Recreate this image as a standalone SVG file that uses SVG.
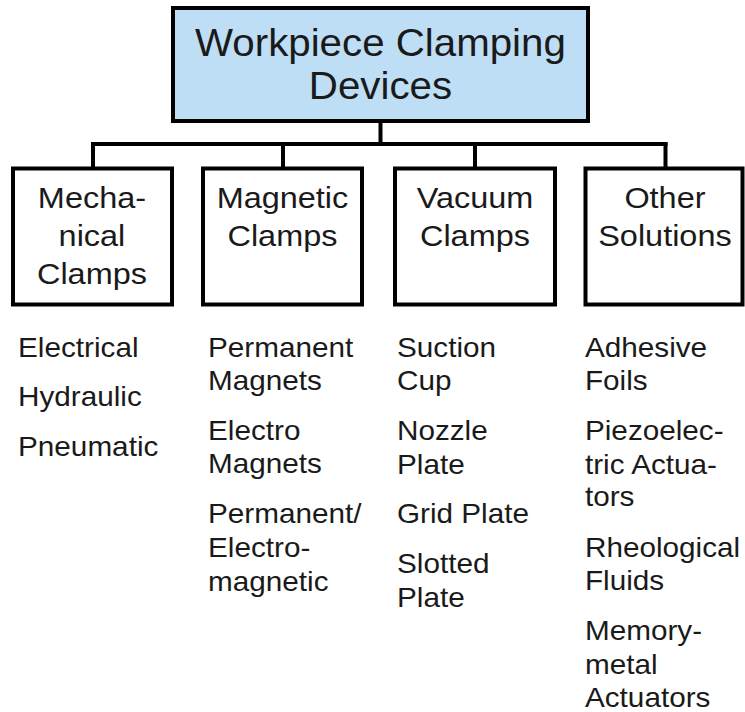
<svg xmlns="http://www.w3.org/2000/svg" width="745" height="712" viewBox="0 0 745 712">
<style>
.box{fill:#ffffff;stroke:#000000;stroke-width:4}
.top{fill:#BEDEF6;stroke:#000000;stroke-width:4}
.conn{fill:none;stroke:#000000;stroke-width:4;stroke-linecap:square}
text{font-family:"Liberation Sans",Arial,sans-serif;fill:#1a1a1a}
.t0{font-size:39.5px;text-anchor:middle}
.t1{font-size:29.5px;text-anchor:middle}
.t2{font-size:27px}
</style>
<rect width="745" height="712" fill="#ffffff"/>
<g id="connectors">
<path class="conn" d="M380.5 122 V144"/>
<path class="conn" d="M93 144 H665.5"/>
<path class="conn" d="M93 144 V167 M283 144 V167 M475 144 V167 M665.5 144 V167"/>
</g>
<g id="root">
<rect class="top" x="173" y="8" width="415" height="113"/>
<g transform="scale(1.02,1)">
<text class="t0" x="373" y="56">Workpiece Clamping</text>
<text class="t0" x="373" y="99">Devices</text>
</g>
</g>
<g id="mechanical">
<rect class="box" x="13" y="168.5" width="159" height="136"/>
<g transform="scale(1.1,1)">
<text class="t1" x="83.6" y="208">Mecha-</text>
<text class="t1" x="83.6" y="246">nical</text>
<text class="t1" x="83.6" y="284">Clamps</text>
</g>
</g>
<g id="magnetic">
<rect class="box" x="203" y="168.5" width="159" height="136"/>
<g transform="scale(1.1,1)">
<text class="t1" x="256.8" y="208">Magnetic</text>
<text class="t1" x="256.8" y="246">Clamps</text>
</g>
</g>
<g id="vacuum">
<rect class="box" x="395" y="168.5" width="160" height="136"/>
<g transform="scale(1.1,1)">
<text class="t1" x="431.8" y="208">Vacuum</text>
<text class="t1" x="431.8" y="246">Clamps</text>
</g>
</g>
<g id="other">
<rect class="box" x="585.5" y="168.5" width="157" height="136"/>
<g transform="scale(1.1,1)">
<text class="t1" x="604.5" y="208">Other</text>
<text class="t1" x="604.5" y="246">Solutions</text>
</g>
</g>
<g id="list-mechanical" transform="scale(1.1,1)">
<text class="t2" x="16.4" y="357">Electrical</text>
<text class="t2" x="16.4" y="406">Hydraulic</text>
<text class="t2" x="16.4" y="456">Pneumatic</text>
</g>
<g id="list-magnetic" transform="scale(1.1,1)">
<text class="t2" x="189.1" y="357">Permanent</text>
<text class="t2" x="189.1" y="390">Magnets</text>
<text class="t2" x="189.1" y="440">Electro</text>
<text class="t2" x="189.1" y="473">Magnets</text>
<text class="t2" x="189.1" y="523">Permanent/</text>
<text class="t2" x="189.1" y="557">Electro-</text>
<text class="t2" x="189.1" y="591">magnetic</text>
</g>
<g id="list-vacuum" transform="scale(1.1,1)">
<text class="t2" x="360.9" y="357">Suction</text>
<text class="t2" x="360.9" y="390">Cup</text>
<text class="t2" x="360.9" y="440">Nozzle</text>
<text class="t2" x="360.9" y="474">Plate</text>
<text class="t2" x="360.9" y="523">Grid Plate</text>
<text class="t2" x="360.9" y="573">Slotted</text>
<text class="t2" x="360.9" y="607">Plate</text>
</g>
<g id="list-other" transform="scale(1.1,1)">
<text class="t2" x="531.8" y="357">Adhesive</text>
<text class="t2" x="531.8" y="390">Foils</text>
<text class="t2" x="531.8" y="440">Piezoelec-</text>
<text class="t2" x="531.8" y="474">tric Actua-</text>
<text class="t2" x="531.8" y="506">tors</text>
<text class="t2" x="531.8" y="557">Rheological</text>
<text class="t2" x="531.8" y="590">Fluids</text>
<text class="t2" x="531.8" y="640">Memory-</text>
<text class="t2" x="531.8" y="674">metal</text>
<text class="t2" x="531.8" y="707">Actuators</text>
</g>
</svg>
